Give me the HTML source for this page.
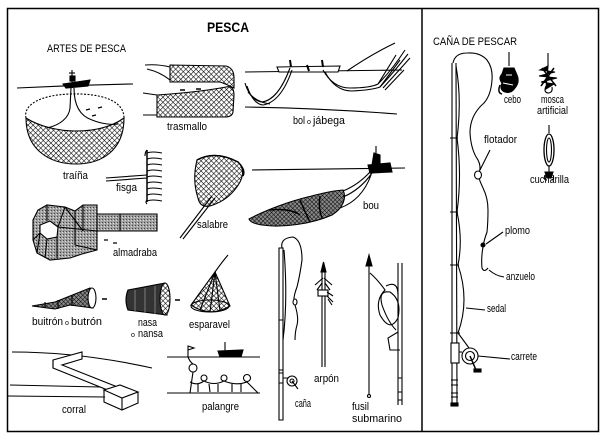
<!DOCTYPE html>
<html><head><meta charset="utf-8"><style>
html,body{margin:0;padding:0;background:#fff;}
svg{display:block;}
text{font-family:"Liberation Sans Narrow","Liberation Sans",sans-serif;fill:#000;}
</style></head><body>
<svg width="602" height="438" viewBox="0 0 602 438" xmlns="http://www.w3.org/2000/svg">
<defs>
<pattern id="net" width="3.6" height="3.6" patternUnits="userSpaceOnUse" patternTransform="rotate(45)">
<rect width="3.6" height="3.6" fill="#fff"/>
<path d="M0,0 L0,3.6 M0,0 L3.6,0" stroke="#000" stroke-width="1.1"/>
</pattern>
<pattern id="net2" width="3" height="3" patternUnits="userSpaceOnUse" patternTransform="rotate(45)">
<rect width="3" height="3" fill="#888"/>
<path d="M0,0 L0,3 M0,0 L3,0" stroke="#000" stroke-width="0.9"/>
</pattern>
<pattern id="gray" width="3" height="3" patternUnits="userSpaceOnUse">
<rect width="3" height="3" fill="#a0a0a0"/>
<rect x="0" y="0" width="1" height="1" fill="#444"/>
<rect x="2" y="1" width="1" height="1" fill="#ddd"/>
</pattern>
</defs>
<rect x="0" y="0" width="602" height="438" fill="#fff"/>
<!-- frame -->
<rect x="7.5" y="8.5" width="591" height="423" fill="none" stroke="#000" stroke-width="1.5"/>
<line x1="422" y1="8" x2="422" y2="431" stroke="#000" stroke-width="1.5"/>

<!-- titles -->
<text x="207" y="32" font-size="14" font-weight="bold" textLength="42" lengthAdjust="spacingAndGlyphs">PESCA</text>
<text x="47" y="52" font-size="11" textLength="79" lengthAdjust="spacingAndGlyphs">ARTES DE PESCA</text>
<text x="433" y="45" font-size="11" textLength="84" lengthAdjust="spacingAndGlyphs">CAÑA DE PESCAR</text>

<g fill="none" stroke="#000" stroke-width="1.1">
<!-- TRAIÑA -->
<path d="M17,88 Q75,85 133,84"/>
<path d="M26,118 C26,150 50,164 76,164 C102,164 124,150 124,118 C110,128 92,131 76,131 C60,131 40,127 26,118 Z" fill="url(#net)"/>
<path d="M26,118 C23,105 40,95 70,94 C100,93 124,100 124,118" stroke-dasharray="2,1.5"/>
<path d="M71,88 L70,108 C69,118 60,125 47,128"/>
<path d="M74,88 C74,105 80,116 92,120 C102,124 112,125 118,124"/>
<path d="M63,84 L90,80 L88,86 L66,88 Z" fill="#000"/>
<line x1="72" y1="70" x2="72" y2="82"/>
<line x1="69" y1="73" x2="75" y2="73"/>
<rect x="70" y="76" width="5" height="5" fill="#000"/>
<path d="M86,110 l4,-1 M98,108 l4,-1 M92,116 l4,-1" stroke-width="1.3"/>

<!-- TRASMALLO -->
<path d="M170,65 L226,66 Q234,68 234,78 L234,88 Q226,84 220,82 L170,82 Z" fill="url(#net)"/>
<path d="M157,95 Q200,92 226,87 Q234,85 234,95 L233,112 Q232,117 225,117 L157,117 Z" fill="url(#net)"/>
<path d="M145,65 Q158,64 170,67 M147,69 Q160,72 170,80 M143,93 L157,95 M143,115 L157,115"/>
<path d="M180,90 l5,0 M196,89 l5,0" stroke-width="1.5"/>

<!-- BOL O JABEGA -->
<path d="M245,72 L402,70"/>
<path d="M277,67 L340,66 L338,72 L279,72 Z" fill="#fff"/>
<path d="M290,60 l1,7 M307,65 l2,6 M322,60 l1,7" stroke-width="2"/>
<path d="M347,71 Q370,55 395,43"/>
<path d="M245,83 Q250,100 262,102 Q278,100 290,68"/>
<path d="M247,86 Q253,104 263,105 Q281,102 292,70"/>
<path d="M248,92 Q256,102 270,104"/>
<path d="M323,70 Q333,88 350,88 Q370,88 378,84 Q392,70 405,50"/>
<path d="M325,72 Q335,91 352,91 Q372,90 380,87 Q394,72 408,54"/>
<path d="M380,87 L400,60 M383,88 L410,58 M385,90 L404,70 M378,84 L396,55"/>
<path d="M245,107 Q320,108 397,114"/>

<!-- FISGA -->
<path d="M106,178 L147,175 M106,181 L147,178"/>
<path d="M147,150 L147,202" stroke-width="1.5"/>
<path d="M147,153 Q152,151 162,153 M147,159 Q152,157 162,159 M147,165 Q152,163 162,165 M147,171 Q152,169 162,171 M147,177 Q152,175 162,177 M147,183 Q152,181 162,183 M147,189 Q152,187 162,189 M147,195 Q152,193 162,195 M147,201 Q152,199 162,201"/>
<path d="M147,150 Q145,152 145,156 M147,200 Q145,202 147,204"/>

<!-- SALABRE -->
<path d="M197,160 Q215,150 238,162 Q246,170 240,182 Q230,200 210,206 Q200,208 198,198 Q192,180 197,160 Z" fill="url(#net)"/>
<path d="M197,160 Q215,150 238,162 Q246,170 243,176" stroke-width="1.5"/>
<path d="M212,196 L180,238 M215,198 L183,239"/>

<!-- BOU -->
<path d="M252,170 L405,168"/>
<path d="M368,165 L390,163 L392,172 L370,173 Z" fill="#000"/>
<path d="M372,165 L374,153 L380,155 L380,164 Z" fill="#000"/>
<line x1="376" y1="146" x2="376" y2="153"/>
<path d="M249,219 C262,212 282,204 300,199 C315,195 330,191 343,190 C347,198 343,208 332,215 C312,224 282,228 262,225 C255,224 250,222 249,219 Z" fill="url(#net2)"/>
<path d="M343,191 Q358,185 370,172 M343,197 Q360,190 372,173 M340,208 Q362,200 371,175"/>
<path d="M270,210 Q290,208 300,215 M300,200 Q305,212 310,222 M320,196 Q318,208 322,218" stroke-width="1.5"/>

<!-- ALMADRABA -->
<polygon points="33,220 38,210 47,205 65,207 75,211 83,205 97,205 97,214 157,214 157,231 97,231 97,250 82,254 70,258 50,260 37,253 33,240" fill="url(#gray)"/>
<polygon points="40,225 50,221 58,227 57,237 47,239 40,233" fill="#fff"/>
<path d="M47,205 L47,221 M65,207 L58,227 M75,211 L75,245 M83,205 L83,231 M97,214 L97,231 M120,214 L120,231 M57,237 L57,258 M47,239 L45,258 M40,233 L37,253 M58,227 L97,231 M65,207 L83,231 M75,245 L97,250 M33,240 L40,233"/>
<path d="M104,240 l4,0 M113,243 l4,0" stroke-width="1.3"/>

<!-- BUITRON -->
<path d="M32,306 L55,302 L70,296 L90,288 L93,308 L70,305 L55,309 Z" fill="url(#net2)"/>
<ellipse cx="92" cy="298" rx="4" ry="10" fill="#fff"/>
<path d="M45,302 L45,308 M58,300 L58,309 M72,295 L72,306"/>
<path d="M102,299 l5,0" stroke-width="1.5"/>

<!-- NASA -->
<path d="M128,290 L165,283 L167,315 L128,310 Q124,300 128,290 Z" fill="#333"/>
<ellipse cx="165" cy="299" rx="5" ry="16" fill="url(#net)"/>
<path d="M135,290 L135,311 M145,288 L145,313 M155,286 L155,314" stroke="#777"/>
<path d="M175,300 l5,0" stroke-width="1.5"/>

<!-- ESPARAVEL -->
<path d="M215,272 Q222,262 228,255"/>
<path d="M215,272 L191,305 Q210,318 230,306 Z" fill="url(#net)"/>
<ellipse cx="210" cy="306" rx="19" ry="6"/>
<path d="M215,272 L200,310 M215,272 L210,312 M215,272 L220,311"/>

<!-- CORRAL -->
<path d="M12,352 Q80,352 152,368"/>
<path d="M10,385 L100,387 M8,396 L105,397"/>
<path d="M53,360 L82,352 L82,359 L62,365 L115,386 L115,393 L53,368 Z" fill="#fff"/>
<path d="M53,360 L53,368"/>
<path d="M104,390 L120,385 L138,392 L122,398 Z" fill="#fff"/>
<path d="M104,390 L104,402 L122,410 L138,403 L138,392 M122,398 L122,410"/>

<!-- PALANGRE -->
<path d="M167,357 L260,357"/>
<path d="M218,351 L243,350 L241,357 L220,357 Z" fill="#000"/>
<line x1="225" y1="342" x2="225" y2="351"/>
<path d="M188,357 L188,346 L194,348 L188,350"/>
<path d="M188,357 Q190,362 193,364"/>
<circle cx="193" cy="368" r="4"/>
<circle cx="204" cy="378" r="3"/>
<circle cx="224" cy="378" r="3"/>
<circle cx="247" cy="378" r="3.5"/>
<path d="M193,372 L190,393 M190,382 Q197,386 204,381 Q214,386 224,381 Q236,386 247,382 L258,393"/>
<path d="M198,384 L198,392 M209,384 L210,392 M218,384 L218,392 M232,384 L232,392 M241,384 L241,392"/>
<path d="M167,393 L260,393"/>

<!-- CAÑA (middle) -->
<path d="M279,248 L279,420 L283,420 L283,248 Z" fill="#fff"/>
<path d="M279,320 L283,320 M279,370 L283,370 M279,373 L283,373 M279,383 L283,383"/>
<path d="M282,248 Q280,238 293,237 Q302,240 302,260 Q300,275 297,287 Q292,300 295,305 Q299,318 297,325 Q295,332 295,340"/>
<ellipse cx="295" cy="302" rx="2" ry="3" fill="#fff"/>
<path d="M284,250 Q288,300 283,340"/>
<circle cx="292" cy="381" r="5" fill="#fff"/>
<circle cx="292" cy="381" r="2"/>
<path d="M283,378 L288,378 M292,381 L298,389"/>

<!-- ARPON -->
<path d="M322,272 L322,367 M325,272 L325,367"/>
<path d="M323.5,262 L321,272 L326,272 Z" fill="#000"/>
<path d="M323,278 L315,285 M324,278 L332,285 M322,283 L317,290 M325,283 L330,290"/>
<rect x="318" y="290" width="10" height="6" fill="#fff"/>
<path d="M327,292 L333,296 M327,296 L333,302 M328,299 L332,305"/>

<!-- FUSIL SUBMARINO -->
<path d="M369,262 L369,395"/>
<path d="M369,255 L366,266 L372,266 Z" fill="#000"/>
<circle cx="369" cy="396" r="1.5"/>
<path d="M398,263 L398,405 M402,263 L402,405"/>
<path d="M398,332 L388,338 L390,350 L400,350"/>
<path d="M398,378 L402,378 M398,392 L402,392 M398,400 L402,400"/>
<path d="M370,273 Q378,280 385,290 Q375,300 380,315 Q390,333 398,318 Q402,300 390,292 Q378,290 382,305 Q388,322 396,330 M386,286 Q398,280 398,295"/>

<!-- RIGHT PANEL ROD -->
<path d="M452,63 L452,405 M456,63 L457,405"/>
<path d="M450,138 L458,138 M450,212 L458,212 M450,265 L459,265 M450,333 L460,333"/>
<rect x="451" y="343" width="8" height="20" fill="#fff"/>
<path d="M451,380 L458,380 M451,385 L458,385 M451,393 L458,393 M451,397 L458,397"/>
<rect x="451" y="403" width="7" height="3" fill="#000"/>
<!-- line -->
<path d="M453,63 Q455,53 467,53 Q480,52 487,60 Q493,68 492,80 Q491,95 484,103 Q470,115 470,133 Q471,150 478,160 Q482,168 478,175 Q480,182 483,188 Q488,198 488,210 Q488,222 487,232 Q484,240 483,247 Q481,258 482,268 Q484,273 488,268"/>
<ellipse cx="478" cy="175" rx="3.5" ry="4" fill="#fff"/>
<circle cx="483" cy="245" r="2" fill="#000"/>
<!-- sedal along rod -->
<path d="M456,66 Q462,100 457,138 Q462,175 457,212 Q463,240 458,265 Q470,300 458,333 L472,352"/>
<!-- reel -->
<circle cx="470" cy="356" r="8" fill="#fff"/>
<circle cx="470" cy="356" r="4.5"/>
<path d="M459,352 L462,352"/>
<path d="M470,356 L476,370" stroke-width="1.5"/>
<rect x="474" y="369" width="7" height="3" fill="#000"/>
<!-- leaders -->
<path d="M480,170 L490,150 M486,244 L503,232 M489,270 Q496,276 504,277 M466,308 L485,310 M478,356 L510,359"/>

<!-- CEBO -->
<path d="M509,52 L509,66"/>
<path d="M504,68 L514,68 L517,75 Q520,82 515,88 Q511,94 505,92 Q499,90 502,83 Q498,78 502,74 Z" fill="#000"/>
<path d="M506,75 l6,0 M503,83 l10,2" stroke="#fff"/>
<path d="M500,85 Q497,93 502,94" stroke-width="1.5"/>

<!-- MOSCA -->
<path d="M548,53 L548,66"/>
<path d="M548,66 L540,70 L555,72 L539,76 L557,78 L541,82 L554,84 L546,89 Z" fill="#000"/>
<path d="M542,68 L556,86 M554,68 L541,86" stroke-width="1.5"/>
<path d="M546,86 Q543,93 549,93 Q553,92 552,87"/>

<!-- CUCHARILLA -->
<path d="M549,125 L549,133"/>
<ellipse cx="549" cy="150" rx="5" ry="16" fill="#fff" stroke-width="1.3"/>
<ellipse cx="549" cy="150" rx="2.5" ry="12"/>
<path d="M549,166 L549,172"/>
<path d="M545,172 L553,172 L551,178 L547,178 Z" fill="#000"/>
<path d="M545,175 Q543,180 547,180 M553,175 Q555,180 551,180"/>
</g>

<!-- labels -->
<g font-size="11">
<text x="63" y="179" textLength="25" lengthAdjust="spacingAndGlyphs">traíña</text>
<text x="167" y="130" textLength="40" lengthAdjust="spacingAndGlyphs">trasmallo</text>
<text x="293" y="124" textLength="12" lengthAdjust="spacingAndGlyphs">bol</text>
<text x="307" y="124" font-size="7">o</text>
<text x="313" y="124" textLength="32" lengthAdjust="spacingAndGlyphs">jábega</text>
<text x="116" y="191" textLength="21" lengthAdjust="spacingAndGlyphs">fisga</text>
<text x="197" y="228" textLength="31" lengthAdjust="spacingAndGlyphs">salabre</text>
<text x="363" y="209" textLength="16" lengthAdjust="spacingAndGlyphs">bou</text>
<text x="113" y="256" textLength="44" lengthAdjust="spacingAndGlyphs">almadraba</text>
<text x="32" y="325" textLength="31" lengthAdjust="spacingAndGlyphs">buitrón</text>
<text x="65" y="325" font-size="7">o</text>
<text x="71" y="325" textLength="31" lengthAdjust="spacingAndGlyphs">butrón</text>
<text x="138" y="326" textLength="19" lengthAdjust="spacingAndGlyphs">nasa</text>
<text x="131" y="337" font-size="7">o</text>
<text x="138" y="337" textLength="25" lengthAdjust="spacingAndGlyphs">nansa</text>
<text x="189" y="328" textLength="41" lengthAdjust="spacingAndGlyphs">esparavel</text>
<text x="62" y="413" textLength="24" lengthAdjust="spacingAndGlyphs">corral</text>
<text x="202" y="410" textLength="37" lengthAdjust="spacingAndGlyphs">palangre</text>
<text x="295" y="407" textLength="16" lengthAdjust="spacingAndGlyphs">caña</text>
<text x="314" y="382" textLength="25" lengthAdjust="spacingAndGlyphs">arpón</text>
<text x="352" y="410" textLength="17" lengthAdjust="spacingAndGlyphs">fusil</text>
<text x="352" y="422" textLength="50" lengthAdjust="spacingAndGlyphs">submarino</text>
<text x="504" y="103" textLength="17" lengthAdjust="spacingAndGlyphs">cebo</text>
<text x="541" y="103" textLength="23" lengthAdjust="spacingAndGlyphs">mosca</text>
<text x="537" y="114" textLength="31" lengthAdjust="spacingAndGlyphs">artificial</text>
<text x="530" y="183" textLength="39" lengthAdjust="spacingAndGlyphs">cucharilla</text>
<text x="484" y="143" textLength="33" lengthAdjust="spacingAndGlyphs">flotador</text>
<text x="505" y="234" textLength="25" lengthAdjust="spacingAndGlyphs">plomo</text>
<text x="506" y="280" textLength="29" lengthAdjust="spacingAndGlyphs">anzuelo</text>
<text x="487" y="312" textLength="19" lengthAdjust="spacingAndGlyphs">sedal</text>
<text x="511" y="360" textLength="26" lengthAdjust="spacingAndGlyphs">carrete</text>
</g>
</svg>
</body></html>
